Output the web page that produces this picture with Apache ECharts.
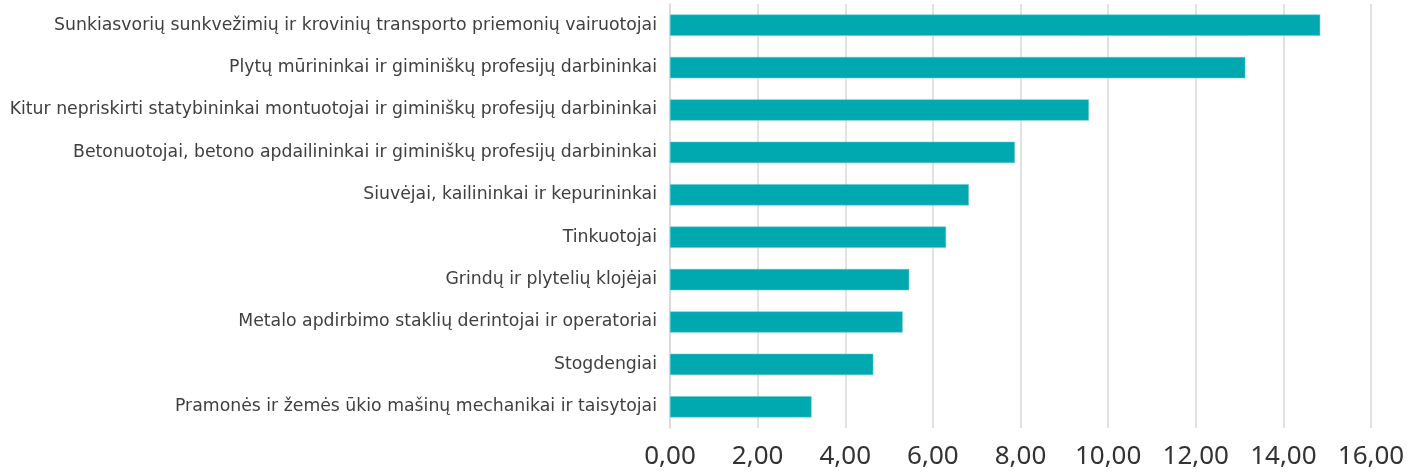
<!DOCTYPE html>
<html>
<head>
<meta charset="utf-8">
<script src="https://cdn.jsdelivr.net/npm/echarts@6/dist/echarts.min.js"></script>
<style>
	html, body { margin: 0; padding: 0; background: #fff; }
	#chart { width: 1409px; height: 476px; }
</style>
</head>
<body>
<div id="chart"></div>
<script>
// Occupations, top to bottom
const categories = [
	'Sunkiasvorių sunkvežimių ir krovinių transporto priemonių vairuotojai',
	'Plytų mūrininkai ir giminiškų profesijų darbininkai',
	'Kitur nepriskirti statybininkai montuotojai ir giminiškų profesijų darbininkai',
	'Betonuotojai, betono apdailininkai ir giminiškų profesijų darbininkai',
	'Siuvėjai, kailininkai ir kepurininkai',
	'Tinkuotojai',
	'Grindų ir plytelių klojėjai',
	'Metalo apdirbimo staklių derintojai ir operatoriai',
	'Stogdengiai',
	'Pramonės ir žemės ūkio mašinų mechanikai ir taisytojai'
]

const values = [14.84, 13.13, 9.56, 7.87, 6.82, 6.30, 5.46, 5.31, 4.64, 3.23]

const xTicks = { min: 0, max: 16, step: 2 }

const chart = echarts.init(document.getElementById('chart'))

const option = {
	animation: false,
	grid: {
		left: 670,
		right: 38,
		top: 4,
		bottom: 48
	},
	xAxis: {
		type: 'value',
		min: xTicks.min,
		max: xTicks.max,
		interval: xTicks.step,
		axisLine: { show: false },
		axisTick: { show: false },
		axisLabel: {
			margin: 16,
			color: '#333333',
			fontFamily: 'Noto Sans',
			fontSize: 26,
			formatter: (v) => v.toFixed(2).replace('.', ',')
		},
		splitLine: {
			lineStyle: { color: '#d9d9d9', width: 1.5 }
		}
	},
	yAxis: {
		type: 'category',
		inverse: true,
		data: categories,
		axisLine: {
			lineStyle: { color: '#d9d9d9', width: 1.5 }
		},
		axisTick: { show: false },
		axisLabel: {
			margin: 13,
			color: '#404040',
			fontFamily: 'DejaVu Sans',
			fontSize: 17.3
		}
	},
	series: [{
		type: 'bar',
		data: values,
		barWidth: '50%',
		itemStyle: {
			color: '#00a9b0',
			borderColor: '#5cc6cb',
			borderWidth: 0.5
		}
	}]
}

chart.setOption(option)
</script>
</body>
</html>
